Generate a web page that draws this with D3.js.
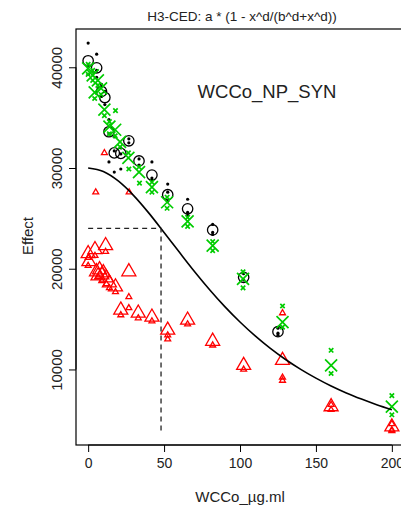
<!DOCTYPE html>
<html>
<head>
<meta charset="utf-8">
<script src="https://cdn.jsdelivr.net/npm/d3@7"></script>
<style>
	body { margin: 0; background: #fff; }
	text { font-family: "Liberation Sans", Arial, sans-serif; fill: #222; }
</style>
</head>
<body>
<div id="chart"></div>
<script>
// ********** DATA **********

const xTicks = [0, 50, 100, 150, 200];
const yTicks = [10000, 20000, 30000, 40000];

// black series: means (circles) and raw values (dots)
const blackMeanX = [0, 5.6, 8.8, 11, 13.7, 17.2, 21.5, 26.8, 33.5, 42, 52.4, 65.5, 82, 102.4, 125];
const blackMeanY = [40650, 39950, 37600, 37000, 33600, 31500, 31450, 32700, 30700, 29300, 27350, 25950, 23850, 19150, 13750];
const blackRawX = [0, 0, 0, 5.6, 5.6, 5.6, 8.8, 8.8, 11, 11, 13.7, 13.7, 13.7, 17.2, 17.2, 17.2, 21.5, 21.5, 21.5, 26.8, 26.8, 33.5, 33.5, 42, 42, 42, 52.4, 52.4, 52.4, 65.5, 65.5, 65.5, 82, 82, 82, 102.4, 102.4, 125, 125, 125];
const blackRawY = [42400, 40200, 39300, 41300, 39700, 39000, 38300, 37100, 37600, 36300, 34800, 30600, 33400, 29600, 33100, 31700, 29900, 32000, 31400, 32900, 32500, 30900, 30300, 30600, 29000, 28800, 28400, 27600, 26700, 26900, 25600, 25300, 24400, 23600, 23400, 19500, 18900, 14100, 13600, 13400];

// red series: means (big triangles) and raw values (small triangles)
const redMeanX = [0, 0.5, 4.5, 11.5, 5.5, 6.5, 7.5, 9, 10, 12, 14, 18, 21.5, 26.8, 33, 42, 52.4, 65.5, 82, 102.4, 128, 160, 200];
const redMeanY = [21500, 20700, 21900, 22300, 19700, 19300, 19900, 19400, 19600, 19100, 18600, 18200, 15900, 19700, 15600, 15200, 13900, 14900, 12800, 10400, 10900, 6300, 4300];
const redRawX = [10.7, 5, 27, 0, 0, 4.5, 11.5, 6.5, 9, 12, 14, 18, 21.5, 26.8, 26.8, 33, 42, 52.4, 52.4, 65.5, 82, 102.4, 128, 128, 128, 160, 160, 200, 200, 200];
const redRawY = [31500, 27600, 27600, 20300, 21100, 21300, 21700, 19200, 18800, 18500, 18100, 17700, 15400, 17200, 16100, 15100, 14800, 13400, 13000, 14500, 12400, 10000, 15600, 9200, 8900, 6000, 6500, 4000, 4600, 3900];

// green series: means (big crosses) and raw values (small crosses)
const greenMeanX = [0, 3, 4.3, 6.4, 8.5, 10.7, 14, 17.8, 21, 26.5, 33.5, 42, 52, 65.5, 82, 102, 128, 160, 200];
const greenMeanY = [39900, 39200, 37500, 38700, 37900, 35800, 34100, 33800, 32600, 31000, 29600, 28100, 26600, 24700, 22300, 19000, 14700, 10400, 6300];
const greenRawX = [0, 0, 3, 3, 4.3, 6.4, 8.5, 10.7, 14, 14, 18, 17.8, 21, 26.8, 26.5, 33.8, 33.5, 42, 42, 52, 52, 65.5, 65.5, 82, 82, 102, 102, 128, 128, 160, 160, 200, 200];
const greenRawY = [40300, 39300, 39700, 38700, 36900, 38200, 37300, 35200, 34600, 33400, 35700, 33200, 32100, 29900, 31500, 28500, 30100, 28600, 27600, 26000, 27100, 25100, 24200, 22700, 21800, 19700, 18100, 16300, 14200, 11900, 9600, 7400, 5500];

// fitted curve
const curveX = [0, 10, 20, 30, 40, 50, 60, 70, 80, 90, 100, 110, 120, 130, 140, 150, 160, 170, 180, 190, 200];
const curveY = [30000, 29650, 28690, 27260, 25520, 23600, 21650, 19730, 17920, 16240, 14710, 13330, 12090, 10990, 10010, 9140, 8360, 7670, 7060, 6500, 6010];

// effective dose marker
const edX = 48;
const edY = 24000;
const edBottom = 3900;

// ********** CHART **********

const width = 401;
const height = 505;
const green = "#00cc00";
const red = "#ff0000";

const svg = d3.select("#chart")
			.append("svg")
			.attr("width", width)
			.attr("height", height);

const x = d3.scaleLinear().domain([-8, 208]).range([76, 404]);
const y = d3.scaleLinear().domain([2500, 43800]).range([445, 29]);

const pairs = (xs, ys) => xs.map((d, i) => [d, ys[i]]);

// plot box
svg.append("rect")
	.attr("x", x(-8))
	.attr("y", y(43800))
	.attr("width", x(208) - x(-8))
	.attr("height", y(2500) - y(43800))
	.attr("fill", "none")
	.attr("stroke", "#000")
	.attr("stroke-width", 1.2);

// x axis
const xAxis = svg.append("g")
				.attr("transform", `translate(0,${y(2500)})`)
				.call(d3.axisBottom(x).tickValues(xTicks).tickSize(7).tickPadding(6).tickFormat(d3.format("d")));
xAxis.select(".domain").attr("d", `M${x(0)},0H${x(200)}`);
xAxis.selectAll("text").style("font-size", "14px").attr("fill", "#222");

// y axis, labels turned like R's default
const yAxis = svg.append("g")
				.attr("transform", `translate(${x(-8)},0)`)
				.call(d3.axisLeft(y).tickValues(yTicks).tickSize(7).tickFormat(d3.format("d")));
yAxis.select(".domain").attr("d", `M0,${y(10000)}V${y(40000)}`);
yAxis.selectAll("text")
	.style("font-size", "15px")
	.attr("fill", "#222")
	.attr("x", 0)
	.attr("y", 0)
	.attr("dy", null)
	.attr("text-anchor", "middle")
	.attr("transform", "translate(-14,0) rotate(-90)");

// titles
svg.append("text")
	.attr("x", 242)
	.attr("y", 21)
	.attr("text-anchor", "middle")
	.style("font-size", "13.5px")
	.text("H3-CED: a * (1 - x^d/(b^d+x^d))");

svg.append("text")
	.attr("x", 240)
	.attr("y", 502)
	.attr("text-anchor", "middle")
	.style("font-size", "15px")
	.text("WCCo_µg.ml");

svg.append("text")
	.attr("transform", `translate(33,236) rotate(-90)`)
	.attr("text-anchor", "middle")
	.style("font-size", "15px")
	.text("Effect");

svg.append("text")
	.attr("x", 267)
	.attr("y", 98)
	.attr("text-anchor", "middle")
	.style("font-size", "18.5px")
	.text("WCCo_NP_SYN");

// black series
svg.selectAll("circle.black-raw")
	.data(pairs(blackRawX, blackRawY))
	.enter()
	.append("circle")
	.attr("class", "black-raw")
	.attr("cx", d => x(d[0]))
	.attr("cy", d => y(d[1]))
	.attr("r", 1.6)
	.attr("fill", "#000");

svg.selectAll("circle.black-mean")
	.data(pairs(blackMeanX, blackMeanY))
	.enter()
	.append("circle")
	.attr("class", "black-mean")
	.attr("cx", d => x(d[0]))
	.attr("cy", d => y(d[1]))
	.attr("r", 5.2)
	.attr("fill", "none")
	.attr("stroke", "#000")
	.attr("stroke-width", 1.3);

// red series
const triBig = d3.symbol(d3.symbolTriangle, 85);
const triSmall = d3.symbol(d3.symbolTriangle, 15);

svg.selectAll("path.red-raw")
	.data(pairs(redRawX, redRawY))
	.enter()
	.append("path")
	.attr("class", "red-raw")
	.attr("d", triSmall)
	.attr("transform", d => `translate(${x(d[0])},${y(d[1])})`)
	.attr("fill", "none")
	.attr("stroke", red)
	.attr("stroke-width", 1.3);

svg.selectAll("path.red-mean")
	.data(pairs(redMeanX, redMeanY))
	.enter()
	.append("path")
	.attr("class", "red-mean")
	.attr("d", triBig)
	.attr("transform", d => `translate(${x(d[0])},${y(d[1])})`)
	.attr("fill", "none")
	.attr("stroke", red)
	.attr("stroke-width", 1.3);

// green series
const cross = (sel, cls, data, r, w) => {
	sel.selectAll(`path.${cls}`)
		.data(data)
		.enter()
		.append("path")
		.attr("class", cls)
		.attr("d", d => {
			const cx = x(d[0]), cy = y(d[1]);
			return `M${cx - r},${cy - r}L${cx + r},${cy + r}M${cx - r},${cy + r}L${cx + r},${cy - r}`;
		})
		.attr("stroke", green)
		.attr("stroke-width", w);
};
cross(svg, "green-raw", pairs(greenRawX, greenRawY), 2.2, 1.7);
cross(svg, "green-mean", pairs(greenMeanX, greenMeanY), 6, 1.7);

// fitted curve
const line = d3.line()
			.x(d => x(d[0]))
			.y(d => y(d[1]))
			.curve(d3.curveMonotoneX);

svg.append("path")
	.datum(pairs(curveX, curveY))
	.attr("d", line)
	.attr("fill", "none")
	.attr("stroke", "#000")
	.attr("stroke-width", 1.6);

// ED dashed guide
svg.append("path")
	.attr("d", `M${x(0)},${y(edY)}H${x(edX)}V${y(edBottom)}`)
	.attr("fill", "none")
	.attr("stroke", "#222")
	.attr("stroke-width", 1.3)
	.attr("stroke-dasharray", "5,4");
</script>
</body>
</html>
